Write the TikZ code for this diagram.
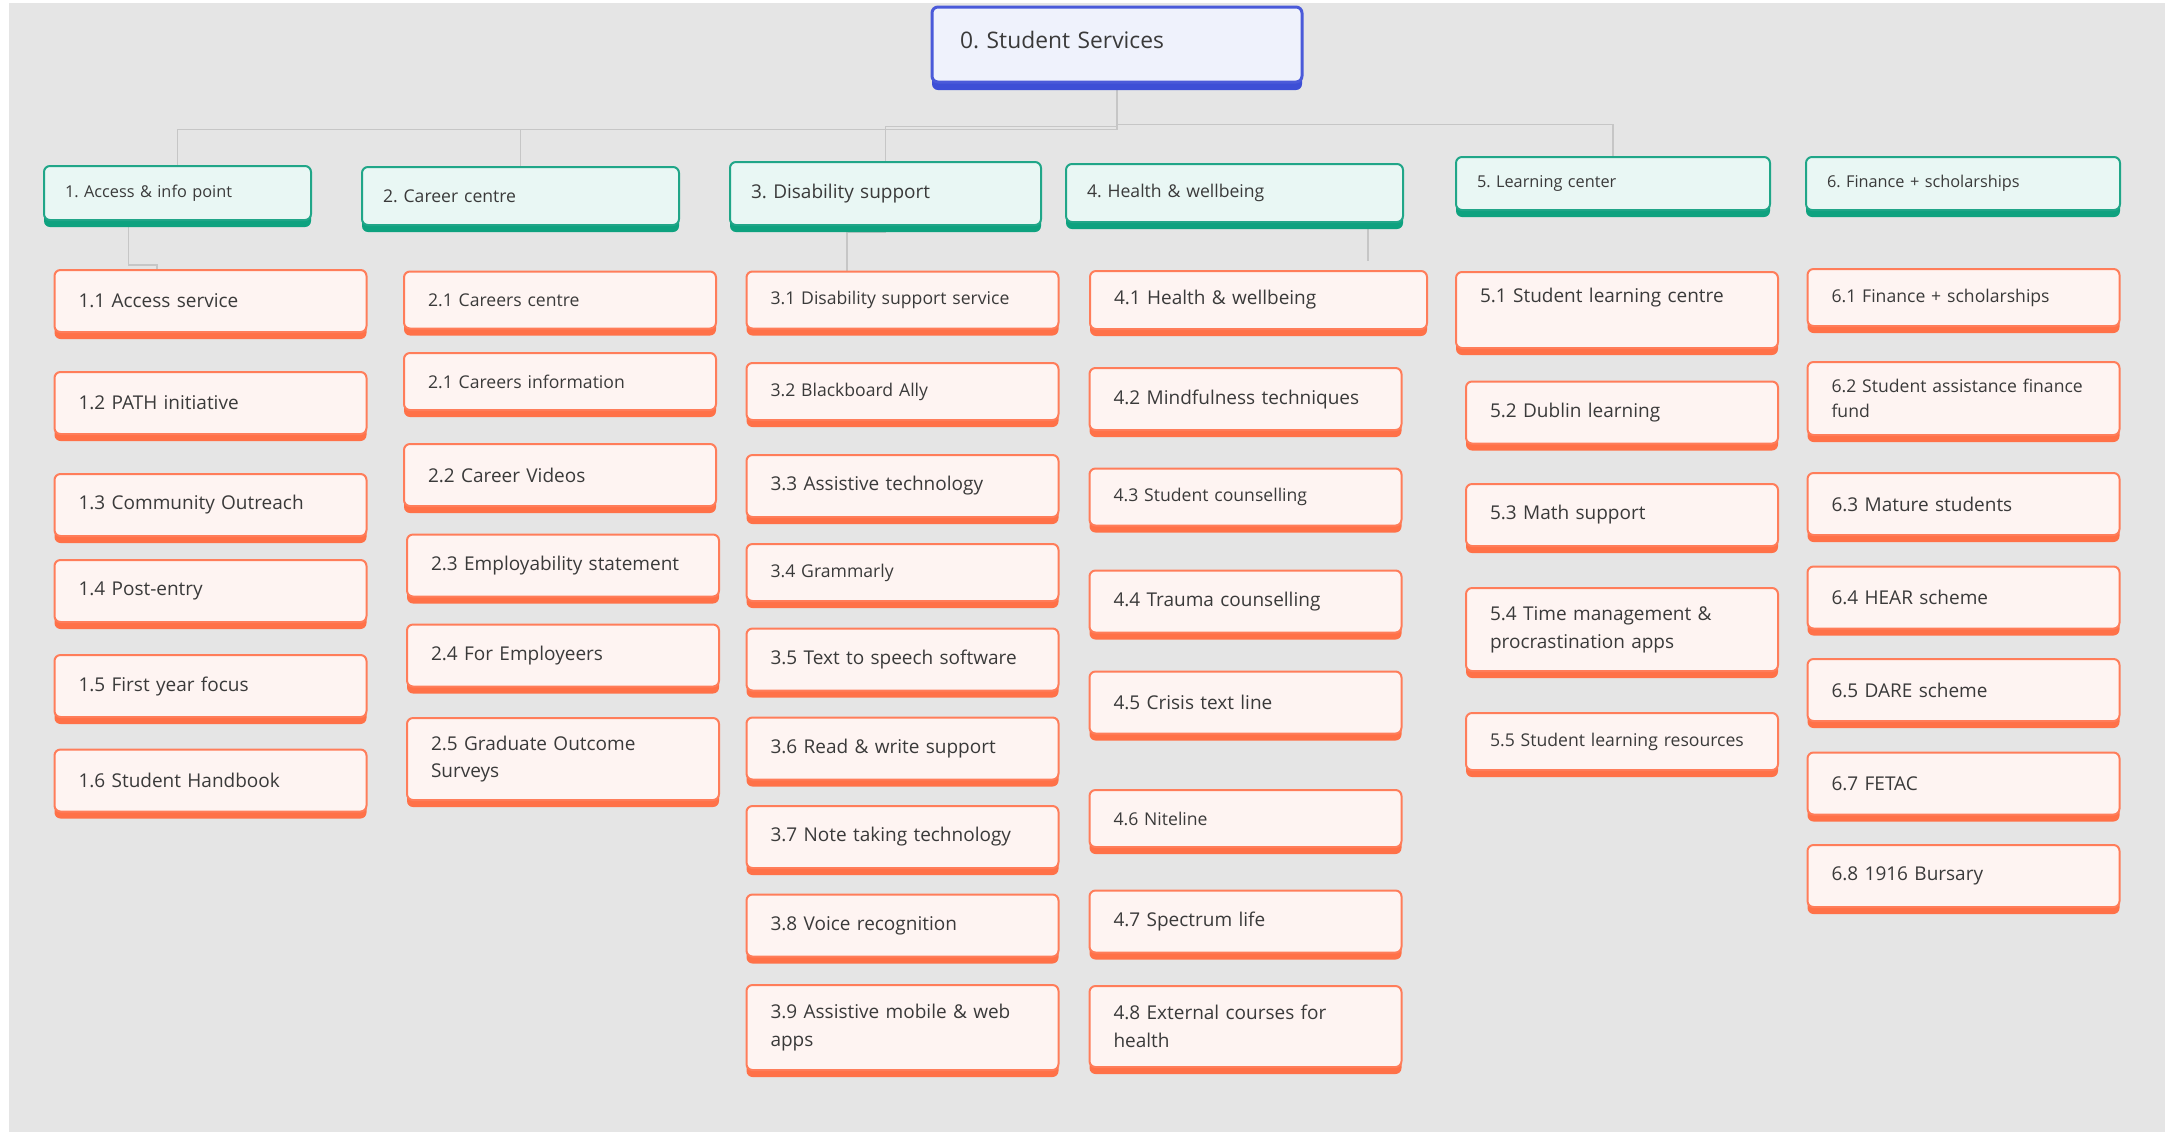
\documentclass[tikz,border=0pt]{standalone}
\usepackage{fontspec}
\setmainfont{Open Sans}
\usetikzlibrary{shadows}
\usetikzlibrary{backgrounds}
\usetikzlibrary{positioning}
\definecolor{canvas}{HTML}{E5E5E5}
\definecolor{linkgray}{HTML}{C6C6C6}
\definecolor{inktext}{HTML}{3A3A3A}
\definecolor{rootedge}{HTML}{4A5AD9}
\definecolor{rootband}{HTML}{3D4FD6}
\definecolor{rootfill}{HTML}{EFF2FC}
\definecolor{catedge}{HTML}{20A688}
\definecolor{catband}{HTML}{0EA27F}
\definecolor{catfill}{HTML}{E9F7F4}
\definecolor{leafedge}{HTML}{FF7D5A}
\definecolor{leafband}{HTML}{FF7148}
\definecolor{leaffill}{HTML}{FEF4F2}
\newcommand{\rootfont}{\fontsize{11.4}{14}\selectfont}
\newcommand{\leafbig}{\fontsize{9.5}{13.8}\selectfont}
\newcommand{\leafsmall}{\fontsize{8.8}{12.4}\selectfont}
\newcommand{\catsmall}{\fontsize{8.15}{11}\selectfont}
\frenchspacing

\begin{document}
\begin{tikzpicture}[x=0.5pt, y=-0.5pt,
    box/.style={rectangle, rounded corners=3pt, line width=1pt, align=left, text=inktext, inner xsep=12pt, inner ysep=2pt},
    root/.style={box, draw=rootedge, fill=rootfill, line width=1.5pt, general shadow={fill=rootband, shadow yshift=-4pt}, inner xsep=14pt, text width=157pt, minimum height=37.5pt, font=\rootfont},
    cat/.style={box, draw=catedge, fill=catfill, general shadow={fill=catband, shadow yshift=-3.5pt}, inner xsep=10.5pt, text width=#1, font=\catsmall},
    leaf/.style={box, draw=leafedge, fill=leaffill, general shadow={fill=leafband, shadow yshift=-3.5pt}, text width=#1, minimum height=31pt, font=\leafbig},
    leaf/.default=132pt,
    smalltext/.style={font=\leafsmall, minimum height=28.5pt},
    link/.style={draw=linkgray, line width=0.75pt}]
  \useasboundingbox (0,0) rectangle (2168,1132);

  \node[root, text depth=4.5pt] (root) at (1117,44.5) {0. Student Services};

  \node[cat=112.5pt, minimum height=27pt] (c1) at (177.5,193) {1. Access \& info point};
  \node[cat=137.5pt, minimum height=29pt, font=\leafsmall] (c2) at (520.5,196) {2. Career centre};
  \node[cat=134.5pt, minimum height=31.5pt, font=\leafbig] (c3) at (885.5,193.5) {3. Disability support};
  \node[cat=147.5pt, minimum height=29pt, font=\leafsmall] (c4) at (1234.5,193) {4. Health \& wellbeing};
  \node[cat=136pt, minimum height=26.5pt] (c5) at (1613,183.5) {5. Learning center};
  \node[cat=136pt, minimum height=26.5pt] (c6) at (1963,183.5) {6. Finance + scholarships};

  \node[leaf] (s11) at (210.5,301) {1.1 Access service};
  \node[leaf] (s12) at (210.5,403) {1.2 PATH initiative};
  \node[leaf] (s13) at (210.5,505) {1.3 Community Outreach};
  \node[leaf] (s14) at (210.5,591) {1.4 Post-entry};
  \node[leaf] (s15) at (210.5,686) {1.5 First year focus};
  \node[leaf] (s16) at (210.5,780.5) {1.6 Student Handbook};

  \node[leaf, smalltext] (s21) at (560,300) {2.1 Careers centre};
  \node[leaf, smalltext] (s22) at (560,381.5) {2.1 Careers information};
  \node[leaf] (s23) at (560,475) {2.2 Career Videos};
  \node[leaf] (s24) at (563,565.5) {2.3 Employability statement};
  \node[leaf] (s25) at (563,655.5) {2.4 For Employeers};
  \node[leaf, minimum height=41pt] (s26) at (563,759) {2.5 Graduate Outcome\\Surveys};

  \node[leaf, smalltext] (s31) at (902.5,300) {3.1 Disability support service};
  \node[leaf, smalltext] (s32) at (902.5,391.5) {3.2 Blackboard Ally};
  \node[leaf] (s33) at (902.5,486) {3.3 Assistive technology};
  \node[leaf, smalltext] (s34) at (902.5,572.5) {3.4 Grammarly};
  \node[leaf] (s35) at (902.5,659.5) {3.5 Text to speech software};
  \node[leaf] (s36) at (902.5,748.5) {3.6 Read \& write support};
  \node[leaf] (s37) at (902.5,837) {3.7 Note taking technology};
  \node[leaf] (s38) at (902.5,925.5) {3.8 Voice recognition};
  \node[leaf, minimum height=42.5pt] (s39) at (902.5,1027.5) {3.9 Assistive mobile \& web\\apps};

  \node[leaf=144.5pt, minimum height=29pt] (s41) at (1258.5,300) {4.1 Health \& wellbeing};
  \node[leaf] (s42) at (1245.5,399) {4.2 Mindfulness techniques};
  \node[leaf, smalltext] (s43) at (1245.5,497) {4.3 Student counselling};
  \node[leaf] (s44) at (1245.5,601.5) {4.4 Trauma counselling};
  \node[leaf] (s45) at (1245.5,702.5) {4.5 Crisis text line};
  \node[leaf, smalltext] (s46) at (1245.5,818.5) {4.6 Niteline};
  \node[leaf] (s47) at (1245.5,921.5) {4.7 Spectrum life};
  \node[leaf, minimum height=40.5pt] (s48) at (1245.5,1026.5) {4.8 External courses for\\health};

  \node[leaf=137pt, minimum height=38pt, text depth=15pt] (s51) at (1617,310) {5.1 Student learning centre};
  \node[leaf] (s52) at (1622,412.5) {5.2 Dublin learning};
  \node[leaf] (s53) at (1622,515) {5.3 Math support};
  \node[leaf, minimum height=41.5pt] (s54) at (1622,629.5) {5.4 Time management \&\\procrastination apps};
  \node[leaf, smalltext] (s55) at (1622,741.5) {5.5 Student learning resources};

  \node[leaf, smalltext] (s61) at (1963.5,297.5) {6.1 Finance + scholarships};
  \node[leaf, smalltext, minimum height=36.5pt] (s62) at (1963.5,398.5) {6.2 Student assistance finance\\fund};
  \node[leaf] (s63) at (1963.5,504) {6.3 Mature students};
  \node[leaf] (s64) at (1963.5,597.5) {6.4 HEAR scheme};
  \node[leaf] (s65) at (1963.5,690) {6.5 DARE scheme};
  \node[leaf] (s66) at (1963.5,783.5) {6.7 FETAC};
  \node[leaf] (s67) at (1963.5,876) {6.8 1916 Bursary};

  \begin{scope}[on background layer]
    \fill[canvas] (9,3) rectangle (2165,1132);
    \foreach \c/\d in {c1/46, c2/46, c3/43, c5/41}
      \draw[link] (root.south) -- ++(0,\d) -| (\c.north);
    \draw[link] ([xshift=-24.5pt]c1.south) |- ([xshift=-26.75pt, yshift=2pt]s11.north) -- ([xshift=-26.75pt]s11.north);
    \draw[link] (c3.south) |- ([xshift=-27.75pt, yshift=19pt]s31.north) -- ([xshift=-27.75pt]s31.north);
    \draw[link] ([xshift=66.75pt]c4.south) -- ([xshift=54.75pt, yshift=4.5pt]s41.north);
  \end{scope}
\end{tikzpicture}
\end{document}
